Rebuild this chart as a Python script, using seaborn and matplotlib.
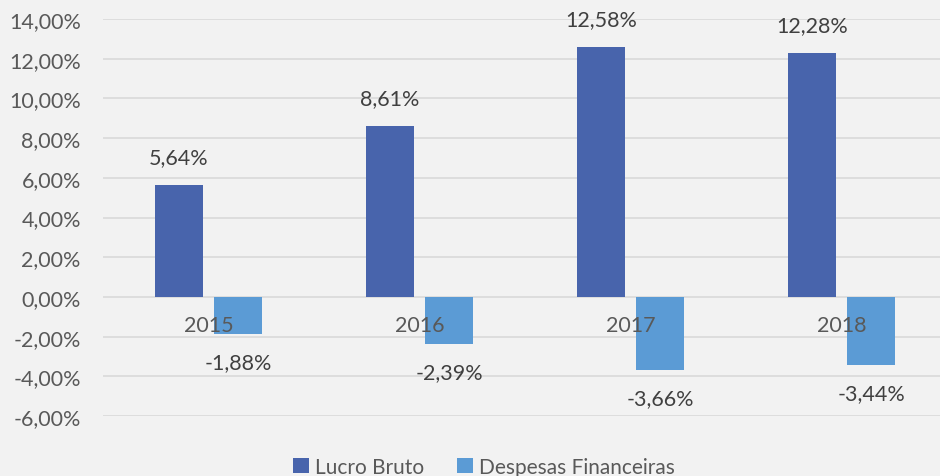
import matplotlib
matplotlib.use("Agg")
import matplotlib.pyplot as plt
import seaborn as sns
import pandas as pd
from matplotlib.ticker import FuncFormatter, MultipleLocator

years = ["2015", "2016", "2017", "2018"]
lucro_bruto = [5.64, 8.61, 12.58, 12.28]
despesas_financeiras = [-1.88, -2.39, -3.66, -3.44]
series_names = ["Lucro Bruto", "Despesas Financeiras"]
colors = ["#4864ac", "#5b9bd5"]

df = pd.DataFrame({
    "ano": years * 2,
    "serie": [series_names[0]] * 4 + [series_names[1]] * 4,
    "valor": lucro_bruto + despesas_financeiras,
})

sns.set_style("white")
plt.rcParams["font.family"] = ["Lato", "DejaVu Sans"]
FS = 15.5

fig = plt.figure(figsize=(9.4, 4.77), dpi=100, facecolor="#f2f2f2")
ax = fig.add_axes([103 / 940, 1 - 417 / 477, 844 / 940, 397 / 477])
ax.set_facecolor("#f2f2f2")

sns.barplot(data=df, x="ano", y="valor", hue="serie", palette=colors,
            width=0.56, gap=0.2, saturation=1, linewidth=0, ax=ax, zorder=3)

ax.set_ylim(-6, 14)
ax.set_xlim(-0.5, 3.5)
ax.yaxis.set_major_locator(MultipleLocator(2))
ax.yaxis.set_major_formatter(FuncFormatter(lambda v, p: f"{v:.2f}%".replace(".", ",")))
ax.grid(axis="y", color="#d9d9d9", lw=1.2, zorder=0)
ax.set_axisbelow(True)
for s in ax.spines.values():
    s.set_visible(False)
ax.tick_params(axis="y", length=0, pad=16, labelsize=FS, labelcolor="#595959")
ax.set_xticks([])
ax.set_xlabel("")
ax.set_ylabel("")

# category labels sit on the zero line, drawn over the bars
for i, yr in enumerate(years):
    ax.annotate(yr, (i, 0), xytext=(0, -20), textcoords="offset points",
                ha="center", va="center", fontsize=FS, color="#595959", zorder=6)

# data labels
for cont in ax.containers:
    for bar in cont:
        h = bar.get_height()
        x = bar.get_x() + bar.get_width() / 2
        txt = f"{h:.2f}%".replace(".", ",")
        if h >= 0:
            ax.annotate(txt, (x, h), xytext=(0, 13), textcoords="offset points",
                        ha="center", va="bottom", fontsize=FS, color="#404040")
        else:
            ax.annotate(txt, (x, h), xytext=(0, -13), textcoords="offset points",
                        ha="center", va="top", fontsize=FS, color="#404040")

handles, labels = ax.get_legend_handles_labels()
ax.legend(handles, labels, loc="center", bbox_to_anchor=(484 / 940, 1 - 468 / 477),
          bbox_transform=fig.transFigure, ncol=2, frameon=False, fontsize=15,
          labelcolor="#595959", handlelength=0.75, handleheight=0.75,
          handletextpad=0.3, columnspacing=1.6)

fig.savefig("out.png", dpi=100, facecolor=fig.get_facecolor())
